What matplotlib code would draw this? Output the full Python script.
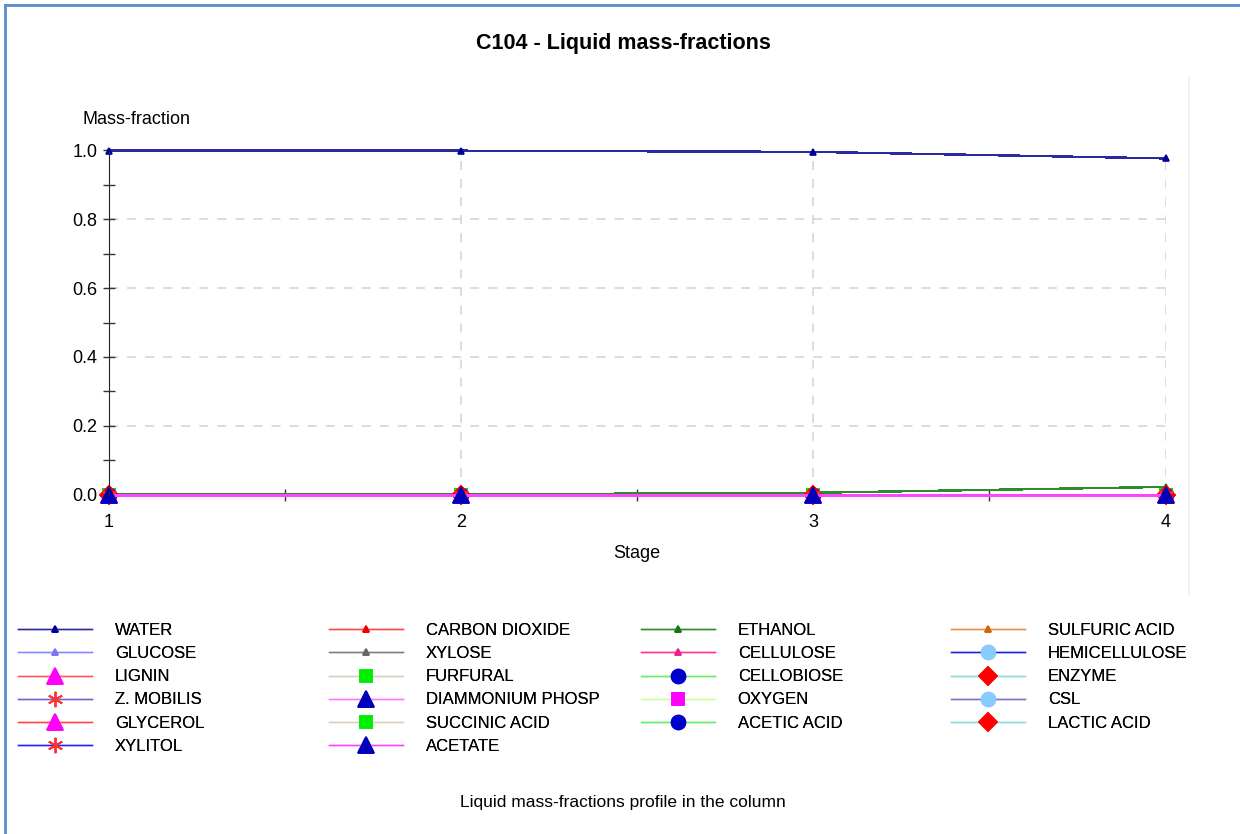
import matplotlib
matplotlib.use("Agg")
import matplotlib.pyplot as plt
from matplotlib.lines import Line2D
from matplotlib.ticker import MultipleLocator

plt.rcParams["font.family"] = ["Liberation Sans", "DejaVu Sans"]

# données
stages = [1, 2, 3, 4]
names = ["WATER", "CARBON DIOXIDE", "ETHANOL", "SULFURIC ACID",
         "GLUCOSE", "XYLOSE", "CELLULOSE", "HEMICELLULOSE",
         "LIGNIN", "FURFURAL", "CELLOBIOSE", "ENZYME",
         "Z. MOBILIS", "DIAMMONIUM PHOSP", "OXYGEN", "CSL",
         "GLYCEROL", "SUCCINIC ACID", "ACETIC ACID", "LACTIC ACID",
         "XYLITOL", "ACETATE"]
water = [1.0, 0.9995, 0.996, 0.977]
ethanol = [0.0, 0.0003, 0.005, 0.022]
zero = [0.0, 0.0, 0.0, 0.0]
values = {n: zero for n in names}
values["WATER"] = water
values["ETHANOL"] = ethanol

# style : (couleur ligne, marqueur, couleur marqueur, taille)
AST = (6, 2, 0)
styles = {
    "WATER": ("#2b2b9e", "^", "#000099", 5),
    "CARBON DIOXIDE": ("#ff4a4a", "^", "#ee0000", 5),
    "ETHANOL": ("#2e8b2e", "^", "#117711", 5),
    "SULFURIC ACID": ("#e89050", "^", "#cc6600", 5),
    "GLUCOSE": ("#8a8aff", "^", "#7777ee", 5),
    "XYLOSE": ("#808080", "^", "#666666", 5),
    "CELLULOSE": ("#ff3399", "^", "#ee2288", 5),
    "HEMICELLULOSE": ("#2222dd", "o", "#88ccff", 10),
    "LIGNIN": ("#ff5a5a", "^", "#ff00ff", 11),
    "FURFURAL": ("#dccfc0", "s", "#00ee00", 9),
    "CELLOBIOSE": ("#66ee66", "o", "#0000cc", 10),
    "ENZYME": ("#88dddd", "D", "#ff0000", 9),
    "Z. MOBILIS": ("#6a6ad0", AST, "#ff3030", 11),
    "DIAMMONIUM PHOSP": ("#ff77ff", "^", "#0000bb", 11),
    "OXYGEN": ("#ccff99", "s", "#ff00ff", 9),
    "CSL": ("#7777cc", "o", "#88ccff", 10),
    "GLYCEROL": ("#ff4a4a", "^", "#ff00ff", 11),
    "SUCCINIC ACID": ("#dccfc0", "s", "#00ee00", 9),
    "ACETIC ACID": ("#66ee66", "o", "#0000cc", 10),
    "LACTIC ACID": ("#88dddd", "D", "#ff0000", 9),
    "XYLITOL": ("#2222ff", AST, "#ff3030", 11),
    "ACETATE": ("#ff44ff", "^", "#0000bb", 11),
}

fig = plt.figure(figsize=(12.4, 8.34), dpi=100)
ax = fig.add_axes([108.5 / 1240, 339.5 / 834, (1165 - 108) / 1240, (495 - 151) / 834])

handles = []
for n in names:
    lc, mk, mc, ms = styles[n]
    # tracé non lissé, comme l'original (lignes en escalier)
    ax.plot(stages, values[n], color=lc, lw=1, antialiased=False,
            clip_on=False)
    ax.plot(stages, values[n], ls="none", marker=mk, ms=ms,
            markerfacecolor=mc, markeredgecolor=mc, mew=1.2, clip_on=False)
    handles.append(Line2D([], [], color=lc, lw=1, marker=mk, ms=ms,
                          markerfacecolor=mc, markeredgecolor=mc, mew=1.2,
                          label=n))

ax.set_xlim(1, 4)
ax.set_ylim(0, 1)
ax.xaxis.set_major_locator(MultipleLocator(1))
ax.xaxis.set_minor_locator(MultipleLocator(0.5))
ax.yaxis.set_major_locator(MultipleLocator(0.2))
ax.yaxis.set_minor_locator(MultipleLocator(0.1))
ax.yaxis.set_major_formatter(matplotlib.ticker.FormatStrFormatter("%.1f"))
ax.tick_params(axis="both", which="both", direction="inout", color="#333333",
               labelsize=13, length=8, width=1)
ax.tick_params(axis="x", which="major", length=0, pad=14)
ax.tick_params(axis="y", which="major", pad=4)
for s in ["top", "right", "bottom"]:
    ax.spines[s].set_visible(False)
ax.spines["left"].set_color("#222222")
ax.grid(True, which="major", color="#d9d9d9", ls=(0, (5, 5)), lw=1.3)
ax.set_axisbelow(True)

fig.text(83 / 1240, 1 - 120 / 834, "Mass-fraction", fontsize=13, va="center")
fig.text(637 / 1240, 1 - 553 / 834, "Stage", fontsize=13, ha="center", va="center")
fig.text(623 / 1240, 1 - 44 / 834, "C104 - Liquid mass-fractions", fontsize=15.5,
         fontweight="bold", ha="center", va="center")
fig.text(623 / 1240, 1 - 803 / 834, "Liquid mass-fractions profile in the column",
         fontsize=12.5, ha="center", va="center")

# légende en 4 colonnes (ordre ligne par ligne)
col_x = [18, 329, 641, 951]
for c in range(4):
    hs = handles[c::4]
    leg = fig.legend(handles=hs, labels=[h.get_label() for h in hs],
                     loc="upper left", bbox_to_anchor=(col_x[c] / 1240, 1 - 623 / 834),
                     frameon=False, fontsize=12, handlelength=4.45,
                     handletextpad=1.35, labelspacing=0.49, borderpad=0,
                     borderaxespad=0, numpoints=1)
    fig.add_artist(leg)

# cadre
fig.add_artist(Line2D([5 / 1240, 5 / 1240], [0, 1 - 5 / 834], color="#5b8bd0", lw=2))
fig.add_artist(Line2D([5 / 1240, 1], [1 - 5 / 834, 1 - 5 / 834], color="#5b8bd0", lw=2))
fig.add_artist(Line2D([1189 / 1240, 1189 / 1240], [1 - 595 / 834, 1 - 78 / 834],
                      color="#e8eef8", lw=1.2))

fig.savefig("out.png", dpi=100)
